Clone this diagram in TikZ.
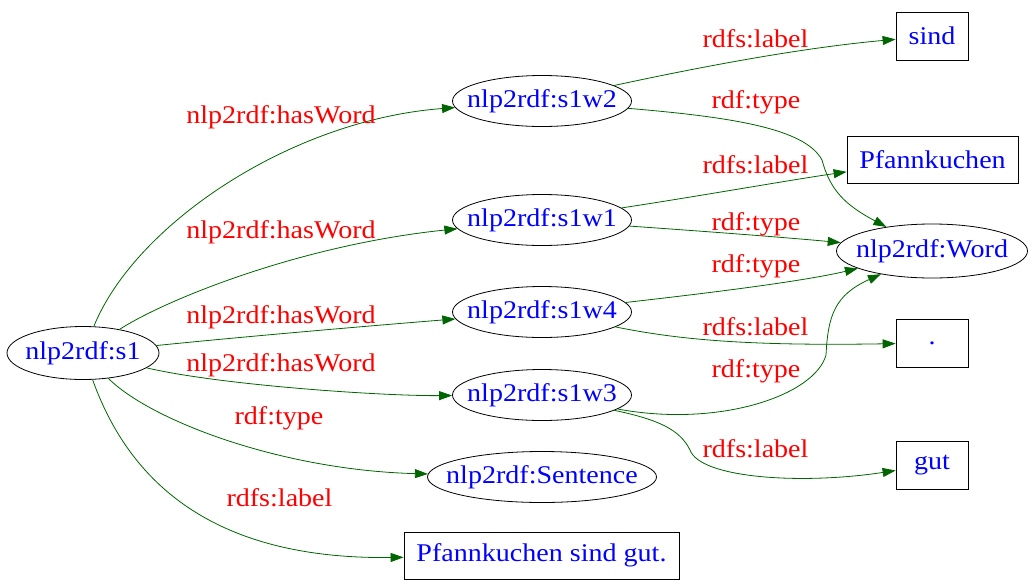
\documentclass[tikz,border=0pt]{standalone}
\usepackage{fontspec}
\setmainfont{Liberation Serif}[FakeStretch=1.1]
\usetikzlibrary{shapes.geometric,arrows.meta}
\definecolor{edgegreen}{HTML}{006400}
\definecolor{txtblue}{HTML}{0000FF}
\definecolor{lblred}{HTML}{FF0000}
\tikzset{
  ell/.style={draw=black, ellipse, line width=0.8pt, inner sep=0pt, minimum height=51, text=txtblue},
  lit/.style={draw=black, rectangle, line width=0.8pt, inner sep=0pt, minimum height=47, text=txtblue},
  edge/.style={draw=edgegreen, line width=0.8pt, -{Triangle[length=13pt,width=9pt]}, fill=none},
  elbl/.style={text=lblred, anchor=base, inner sep=0pt},
}
\newcommand{\ztxt}[1]{\makebox[0pt]{#1}}
\begin{document}
\begin{tikzpicture}[x=1pt,y=-1pt,font=\fontsize{25.5}{30}\selectfont]
\useasboundingbox (0,0) rectangle (1035,584);
% nodes
\node[ell, minimum width=152, minimum height=53] (s1) at (83,353) {\ztxt{nlp2rdf:s1}};
\node[ell, minimum width=179] (s1w2) at (542,101) {\ztxt{nlp2rdf:s1w2}};
\node[ell, minimum width=179] (s1w1) at (542,220) {\ztxt{nlp2rdf:s1w1}};
\node[ell, minimum width=179] (s1w4) at (542,312) {\ztxt{nlp2rdf:s1w4}};
\node[ell, minimum width=179] (s1w3) at (542,395) {\ztxt{nlp2rdf:s1w3}};
\node[ell, minimum width=229] (sent) at (542,477) {\ztxt{nlp2rdf:Sentence}};
\node[ell, minimum width=191, minimum height=54] (word) at (932,251) {\ztxt{nlp2rdf:Word}};
\node[lit, minimum width=72, minimum height=48] (sind) at (932,36) {\ztxt{sind}};
\node[lit, minimum width=171] (pfk) at (932.5,159.5) {\ztxt{Pfannkuchen}};
\node[lit, minimum width=72, minimum height=48] (dot) at (932,343) {\ztxt{.}};
\node[lit, minimum width=72, minimum height=48] (gut) at (932,465) {\ztxt{gut}};
\node[lit, minimum width=275] (sent lit) at (541.5,555.5) {\ztxt{Pfannkuchen sind gut.}};
% edges from s1
\draw[edge] (s1) .. controls (135,225) and (290,120) .. (s1w2);
\draw[edge] (s1) .. controls (165,300) and (300,245) .. (s1w1);
\draw[edge] (s1) .. controls (250,336) and (380,325) .. (s1w4);
\draw[edge] (s1) .. controls (220,385) and (380,396) .. (s1w3);
\draw[edge] (s1) .. controls (150,420) and (280,470) .. (sent);
\draw[edge] (s1) .. controls (125,470) and (200,560) .. (sent lit);
% edges from words
\draw[edge] (s1w2) .. controls (700,67) and (800,48) .. (sind);
\draw[edge] (s1w2) .. controls (730,117) and (805,128) .. (822,160) .. controls (830,190) and (845,205) .. (word);
\draw[edge] (s1w1) .. controls (700,196) and (790,180) .. (pfk);
\draw[edge] (s1w1) .. controls (700,231) and (780,237) .. (word);
\draw[edge] (s1w4) .. controls (700,294) and (800,282) .. (word);
\draw[edge] (s1w4) .. controls (680,340) and (750,346) .. (dot);
\draw[edge] (s1w3) .. controls (720,428) and (815,395) .. (826,355) .. controls (828,315) and (835,295) .. (word);
\draw[edge] (s1w3) .. controls (660,420) and (680,430) .. (690,450) .. controls (700,478) and (800,485) .. (gut);
% edge labels
\node[elbl] (l1) at (281,123) {nlp2rdf:hasWord};
\node[elbl] (l2) at (281,238) {nlp2rdf:hasWord};
\node[elbl] (l3) at (281,323) {nlp2rdf:hasWord};
\node[elbl] (l4) at (281,371) {nlp2rdf:hasWord};
\node[elbl] (l5) at (279,424) {rdf:type};
\node[elbl] (l6) at (279.5,506) {rdfs:label};
\node[elbl] (l7) at (755.5,47) {rdfs:label};
\node[elbl] (l8) at (756,108) {rdf:type};
\node[elbl] (l9) at (755.5,173) {rdfs:label};
\node[elbl] (l10) at (756,230) {rdf:type};
\node[elbl] (l11) at (756,272) {rdf:type};
\node[elbl] (l12) at (755.5,335) {rdfs:label};
\node[elbl] (l13) at (756,377) {rdf:type};
\node[elbl] (l14) at (755.5,457) {rdfs:label};
\end{tikzpicture}
\end{document}
